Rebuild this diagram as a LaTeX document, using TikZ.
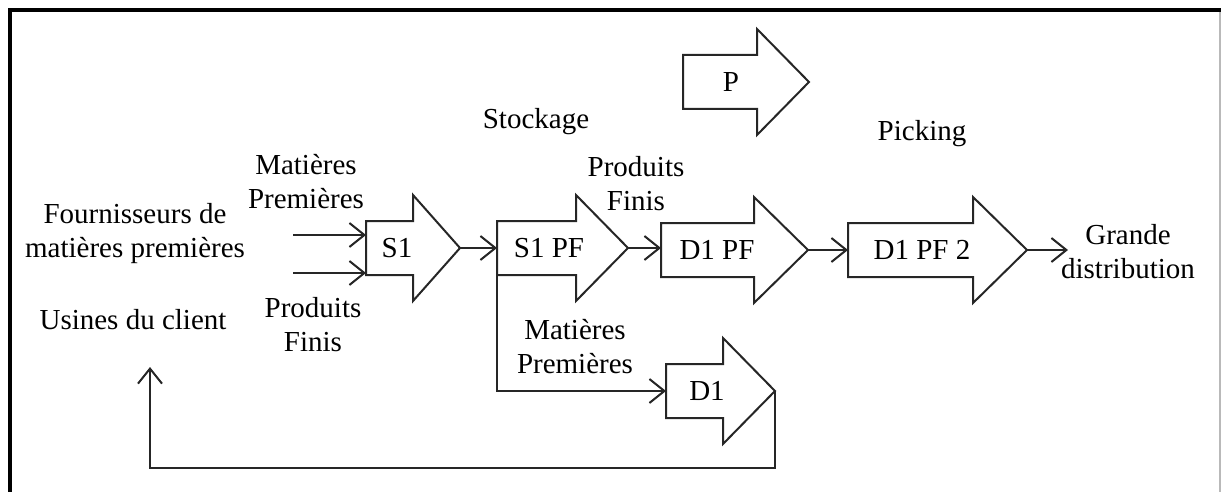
\documentclass[tikz,border=0pt]{standalone}
\usepackage{fontspec}
\setmainfont{Liberation Serif}
\usetikzlibrary{arrows.meta}
\tikzset{
  blk/.style={draw=black!85, line width=2pt, fill=white, line join=miter},
  lbl/.style={inner sep=0pt, font=\fontsize{29}{34}\selectfont},
  txt/.style={inner sep=0pt, align=center, font=\fontsize{29}{34}\selectfont},
  conn/.style={draw=black!85, line width=2pt,
    -{Straight Barb[length=15pt,width=24pt,line width=2pt]}},
  plain/.style={draw=black!85, line width=2pt}
}
\newcommand\blockarr[7]{%
  \coordinate (#1-w) at (#2,#5);
  \coordinate (#1-tip) at (#4,#5);
  \draw[blk] (#2,{#5-27}) -- (#3,{#5-27}) -- (#3,{#5-53}) -- (#4,#5)
    -- (#3,{#5+53}) -- (#3,{#5+27}) -- (#2,{#5+27}) -- cycle;
  \node[lbl] (#1) at (#6,#5) {#7};
}
\begin{document}
\begin{tikzpicture}[x=1pt,y=-1pt]
\useasboundingbox (0,0) rectangle (1221,492);
% frame
\draw[line width=4pt] (9.5,492) -- (9.5,10) -- (1221,10);
\draw[gray!55, line width=1.2pt] (1220,12) -- (1220,492);

% block arrows
\blockarr{s1}{366}{413}{460}{248}{397}{S1}
\blockarr{s1pf}{497}{576}{628}{248}{549}{S1 PF}
\blockarr{d1pf}{661}{754}{808}{250}{717}{D1 PF}
\blockarr{d1pftwo}{848}{973}{1027}{250}{922}{D1 PF 2}
\blockarr{d1}{666}{723}{775}{391}{707}{D1}
\blockarr{p}{683}{757}{809}{82}{731}{P}

% texts
\node[txt] (fourn) at (135,234) {Fournisseurs de\\matières premières};
\node[txt] (usines) at (133,320) {Usines du client};
\node[txt] (mp1) at (306,182) {Matières\\Premières};
\node[txt] (pf1) at (313,325) {Produits\\Finis};
\node[txt] (stock) at (536,122) {Stockage};
\node[txt] (pf2) at (636,184) {Produits\\Finis};
\node[txt] (mp2) at (575,347) {Matières\\Premières};
\node[txt] (pick) at (922,134) {Picking};
\node[txt] (gd) at (1128,252) {Grande\\distribution};

% free ends
\coordinate (in1) at (293,235);
\coordinate (in2) at (293,273);
\coordinate (fb) at (150,367);
\coordinate (gdin) at (1068,250);

% connectors
\draw[conn] (in1) -- (in1 -| s1-w);
\draw[conn] (in2) -- (in2 -| s1-w);
\draw[conn] (s1-tip) -- (s1pf-w);
\draw[conn] (s1pf-tip) -- (s1pf-tip -| d1pf-w);
\draw[conn] (d1pf-tip) -- (d1pftwo-w);
\draw[conn] (d1pftwo-tip) -- (gdin);
\draw[conn] (s1pf-w) -- (s1pf-w |- d1-w) -- (d1-w);
\draw[conn] (d1-tip) -- (775,468) -- (150,468) -- (fb);
\end{tikzpicture}
\end{document}
